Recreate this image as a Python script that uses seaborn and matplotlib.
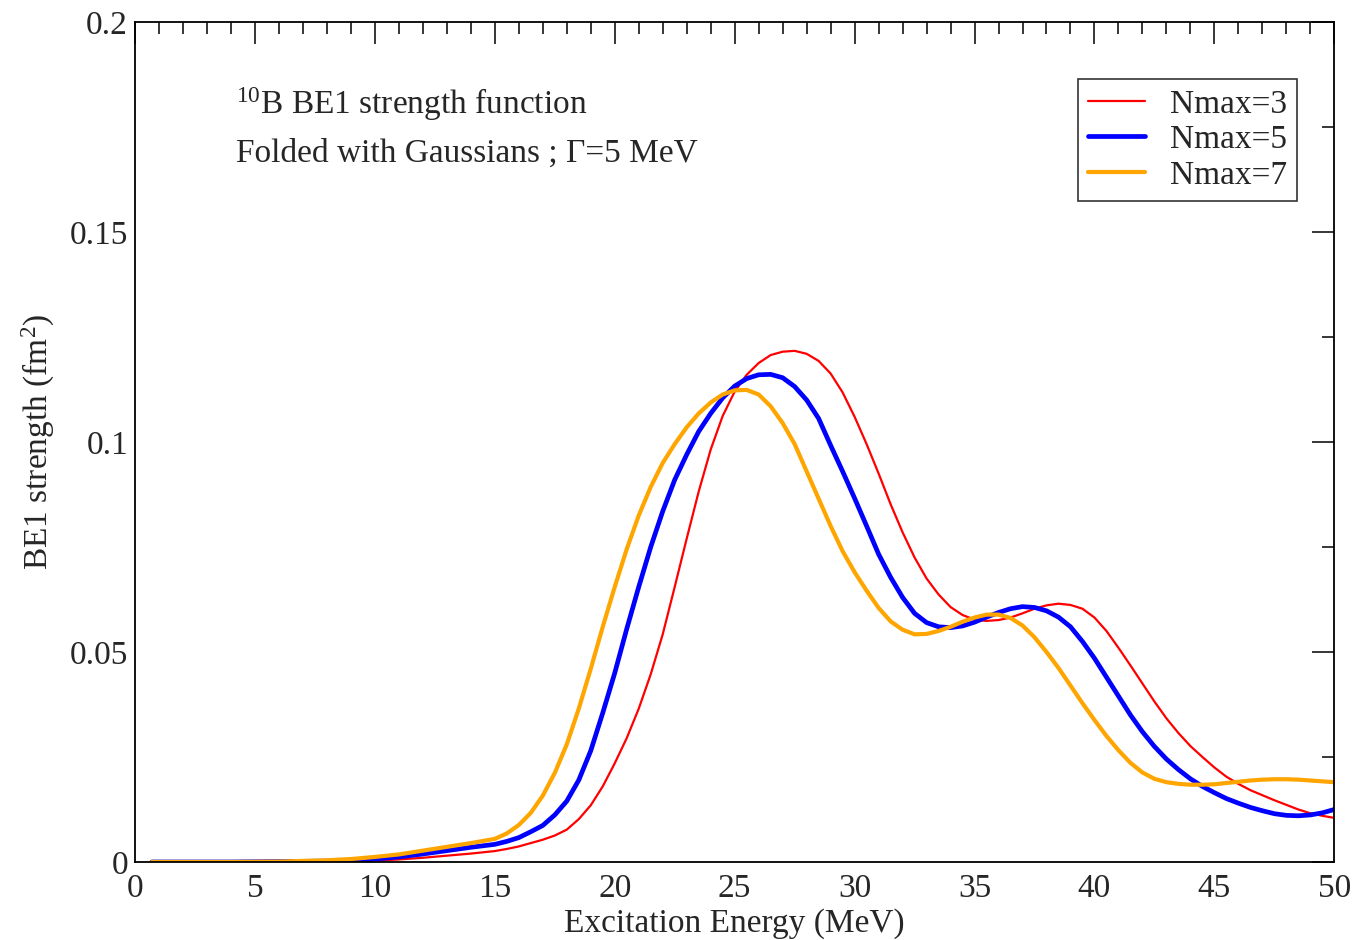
import pandas as pd
import matplotlib
matplotlib.use("Agg")
import matplotlib.pyplot as plt
import seaborn as sns
from matplotlib.lines import Line2D
from matplotlib.ticker import MultipleLocator

energy = [0.7, 2, 4, 6, 8, 9, 10, 11, 12, 13, 14,
          15.0, 15.5, 16.0, 16.5, 17.0, 17.5, 18.0, 18.5, 19.0, 19.5,
          20.0, 20.5, 21.0, 21.5, 22.0, 22.5, 23.0, 23.5, 24.0, 24.5,
          25.0, 25.5, 26.0, 26.5, 27.0, 27.5, 28.0, 28.5, 29.0, 29.5,
          30.0, 30.5, 31.0, 31.5, 32.0, 32.5, 33.0, 33.5, 34.0, 34.5,
          35.0, 35.5, 36.0, 36.5, 37.0, 37.5, 38.0, 38.5, 39.0, 39.5,
          40.0, 40.5, 41.0, 41.5, 42.0, 42.5, 43.0, 43.5, 44.0, 44.5,
          45.0, 45.5, 46.0, 46.5, 47.0, 47.5, 48.0, 48.5, 49.0, 49.5, 50.0]

nmax3 = [0.0, 0.0, 0.0, 0.0, 0.0001, 0.0002, 0.0003, 0.0006, 0.001, 0.0015, 0.002,
         0.0026, 0.0031, 0.0037, 0.0045, 0.0053, 0.0063, 0.0077, 0.0102, 0.0135, 0.0180,
         0.0235, 0.0295, 0.0365, 0.0447, 0.0542, 0.0655, 0.0770, 0.0882, 0.0982, 0.1062,
         0.1120, 0.1160, 0.1188, 0.1207, 0.1215, 0.1217, 0.1210, 0.1193, 0.1163, 0.1118,
         0.1060, 0.0995, 0.0925, 0.0852, 0.0785, 0.0725, 0.0675, 0.0637, 0.0607, 0.0588,
         0.0577, 0.0574, 0.0576, 0.0582, 0.0592, 0.0603, 0.0611, 0.0615, 0.0612, 0.0603,
         0.0582, 0.0550, 0.0510, 0.0468, 0.0425, 0.0382, 0.0342, 0.0307, 0.0276, 0.0250,
         0.0225, 0.0203, 0.0186, 0.0171, 0.0159, 0.0147, 0.0136, 0.0125, 0.0116, 0.0110, 0.0105]

nmax5 = [0.0, 0.0, 0.0, 0.0001, 0.0002, 0.0004, 0.0007, 0.0012, 0.0019, 0.0027, 0.0035,
         0.0042, 0.0049, 0.0058, 0.0072, 0.0087, 0.0112, 0.0145, 0.0195, 0.0265, 0.0355,
         0.0450, 0.0555, 0.0655, 0.0750, 0.0835, 0.0910, 0.0970, 0.1025, 0.1068, 0.1105,
         0.1133, 0.1151, 0.1160, 0.1161, 0.1153, 0.1132, 0.1100, 0.1056, 0.0992, 0.0930,
         0.0866, 0.0800, 0.0733, 0.0678, 0.0630, 0.0592, 0.0570, 0.0560, 0.0558, 0.0562,
         0.0571, 0.0583, 0.0594, 0.0603, 0.0608, 0.0606, 0.0598, 0.0583, 0.0560, 0.0525,
         0.0485, 0.0440, 0.0395, 0.0350, 0.0310, 0.0275, 0.0245, 0.0220, 0.0198, 0.0180,
         0.0165, 0.0151, 0.0140, 0.0130, 0.0122, 0.0115, 0.0111, 0.0110, 0.0112, 0.0117, 0.0125]

nmax7 = [0.0, 0.0, 0.0, 0.0001, 0.0004, 0.0007, 0.0012, 0.0018, 0.0027, 0.0036, 0.0045,
         0.0055, 0.0068, 0.0088, 0.0117, 0.0158, 0.0212, 0.0280, 0.0365, 0.0460, 0.0560,
         0.0655, 0.0745, 0.0825, 0.0893, 0.0950, 0.0995, 0.1035, 0.1068, 0.1094, 0.1113,
         0.1123, 0.1124, 0.1113, 0.1085, 0.1045, 0.0995, 0.0930, 0.0865, 0.0800, 0.0740,
         0.0690, 0.0646, 0.0605, 0.0573, 0.0553, 0.0542, 0.0543, 0.0550, 0.0560, 0.0572,
         0.0582, 0.0589, 0.0589, 0.0581, 0.0563, 0.0535, 0.0500, 0.0462, 0.0420, 0.0378,
         0.0338, 0.0300, 0.0266, 0.0236, 0.0213, 0.0198, 0.0190, 0.0186, 0.0184, 0.0184,
         0.0185, 0.0188, 0.0191, 0.0194, 0.0196, 0.0197, 0.0197, 0.0196, 0.0194, 0.0192, 0.0190]

labels = ['Nmax=3', 'Nmax=5', 'Nmax=7']
colors = ['#ff0000', '#0000ff', '#ffa500']
widths = [1.6, 3.4, 3.0]

df = pd.DataFrame({'Energy': energy, 'Nmax=3': nmax3, 'Nmax=5': nmax5, 'Nmax=7': nmax7})
long_df = df.melt(id_vars='Energy', var_name='Series', value_name='Strength')

sns.set_theme(style="white")
plt.rcParams['font.family'] = ['Liberation Serif', 'DejaVu Serif']
plt.rcParams['mathtext.fontset'] = 'custom'
plt.rcParams['mathtext.rm'] = 'Liberation Serif'
plt.rcParams['mathtext.it'] = 'Liberation Serif'

fig = plt.figure(figsize=(13.53, 9.40), dpi=100)
ax = fig.add_axes([0.0998, 0.0830, 0.8864, 0.8936])

for lab, c, w in zip(labels, colors, widths):
    sub = long_df[long_df['Series'] == lab]
    sns.lineplot(data=sub, x='Energy', y='Strength', color=c, linewidth=w, ax=ax)

ax.set_xlim(0, 50)
ax.set_ylim(0, 0.2)
ax.xaxis.set_major_locator(MultipleLocator(5))
ax.xaxis.set_minor_locator(MultipleLocator(1))
ax.yaxis.set_minor_locator(MultipleLocator(0.025))
ax.set_yticks([0, 0.05, 0.1, 0.15, 0.2])
ax.set_yticklabels(['0', '0.05', '0.1', '0.15', '0.2'])
ax.tick_params(which='both', direction='in', top=True, right=True, color='black',
               labelsize=24, width=1.1, pad=5)
ax.tick_params(axis='x', which='major', pad=8)
ax.tick_params(which='major', length=16)
ax.tick_params(which='minor', length=8.5)
for sp in ax.spines.values():
    sp.set_color('black')
    sp.set_linewidth(1.3)

ax.set_xlabel('Excitation Energy (MeV)', fontsize=24, labelpad=3)
ax.set_ylabel('BE1 strength (fm$^2$)', fontsize=24, labelpad=9)

ax.text(4.2, 0.178, '$^{10}$B BE1 strength function', fontsize=24)
ax.text(4.2, 0.1667, 'Folded with Gaussians ; \u0393=5 MeV', fontsize=24)

handles = [Line2D([0], [0], color=c, linewidth=w) for c, w in zip(colors, widths)]
leg = ax.legend(handles, labels, loc='upper right', bbox_to_anchor=(0.969, 0.932),
                fontsize=24, frameon=True, fancybox=False, handlelength=1.7,
                handletextpad=0.75, labelspacing=0.15, borderpad=0.3, borderaxespad=0)
leg.get_frame().set_edgecolor('black')
leg.get_frame().set_linewidth(1.2)

fig.savefig('out.png', dpi=100)
